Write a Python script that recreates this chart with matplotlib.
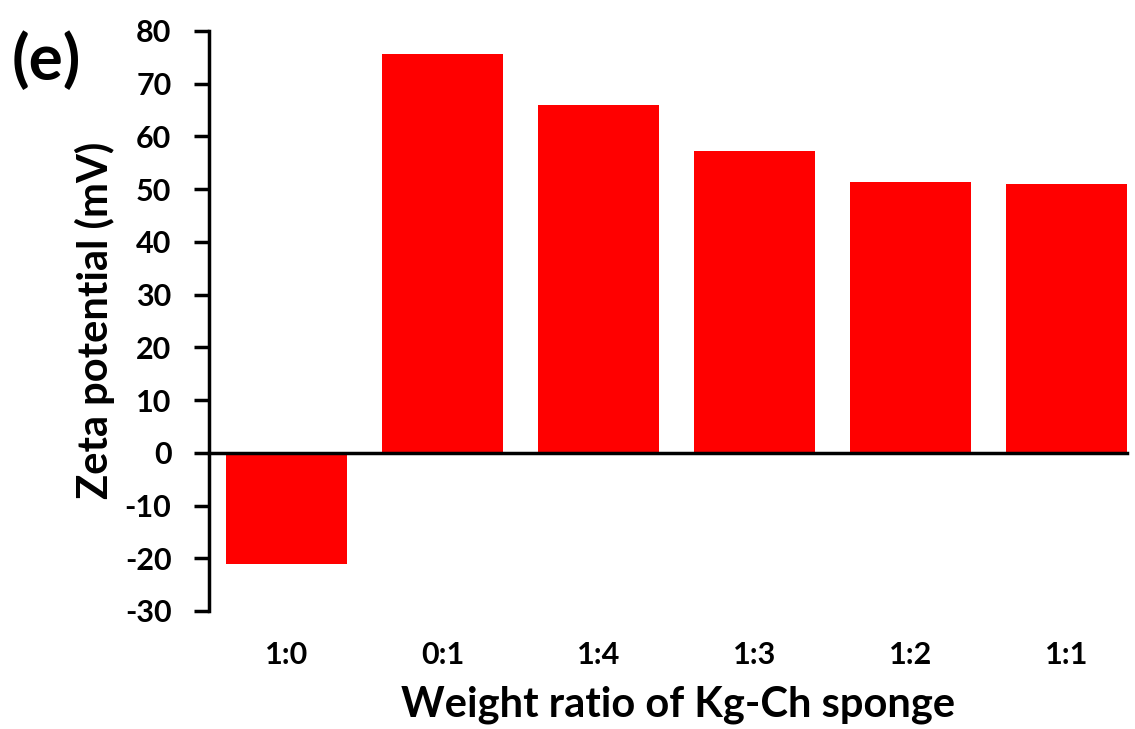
import matplotlib
matplotlib.use("Agg")
import matplotlib.pyplot as plt

categories = ["1:0", "0:1", "1:4", "1:3", "1:2", "1:1"]
zeta_mV = [-21.1, 75.7, 66.0, 57.3, 51.4, 51.0]
yticks = list(range(-30, 81, 10))

plt.rcParams['font.family'] = ['Lato', 'DejaVu Sans']
plt.rcParams['font.weight'] = 'bold'

fig = plt.figure(figsize=(11.35, 7.29), dpi=100)
ax = fig.add_axes([0.1841, 0.1619, 0.993 - 0.1841, 0.9575 - 0.1619])

x = list(range(len(categories)))
ax.bar(x, zeta_mV, width=0.777, color='#ff0000', zorder=2)

ax.set_xlim(-0.5, 5.39)
ax.set_ylim(-30, 80)
ax.set_yticks(yticks)
ax.set_yticklabels([str(t) for t in yticks], fontsize=22, fontweight='bold')
ax.tick_params(axis='y', direction='out', length=11, width=2.5, pad=16)
ax.set_xticks(x)
ax.set_xticklabels([])
ax.tick_params(axis='x', length=0)
for xi, c in zip(x, categories):
    ax.text(xi, -0.076, c, transform=ax.get_xaxis_transform(), fontsize=22,
            fontweight='bold', ha='center', va='center')

for s in ['top', 'right']:
    ax.spines[s].set_visible(False)
ax.spines['left'].set_linewidth(2.5)
ax.spines['bottom'].set_position(('data', 0))
ax.spines['bottom'].set_linewidth(2.5)
ax.spines['bottom'].set_zorder(3)

fig.text(0.084, 0.561, "Zeta potential (mV)", rotation=90, fontsize=30, fontweight='bold',
         ha='center', va='center')
fig.text(0.597, 0.033, "Weight ratio of Kg-Ch sponge", fontsize=30, fontweight='bold',
         ha='center', va='center')
fig.text(0.010, 0.918, "(e)", fontsize=46, fontweight='bold', ha='left', va='center')

fig.savefig("out.png", dpi=100)
